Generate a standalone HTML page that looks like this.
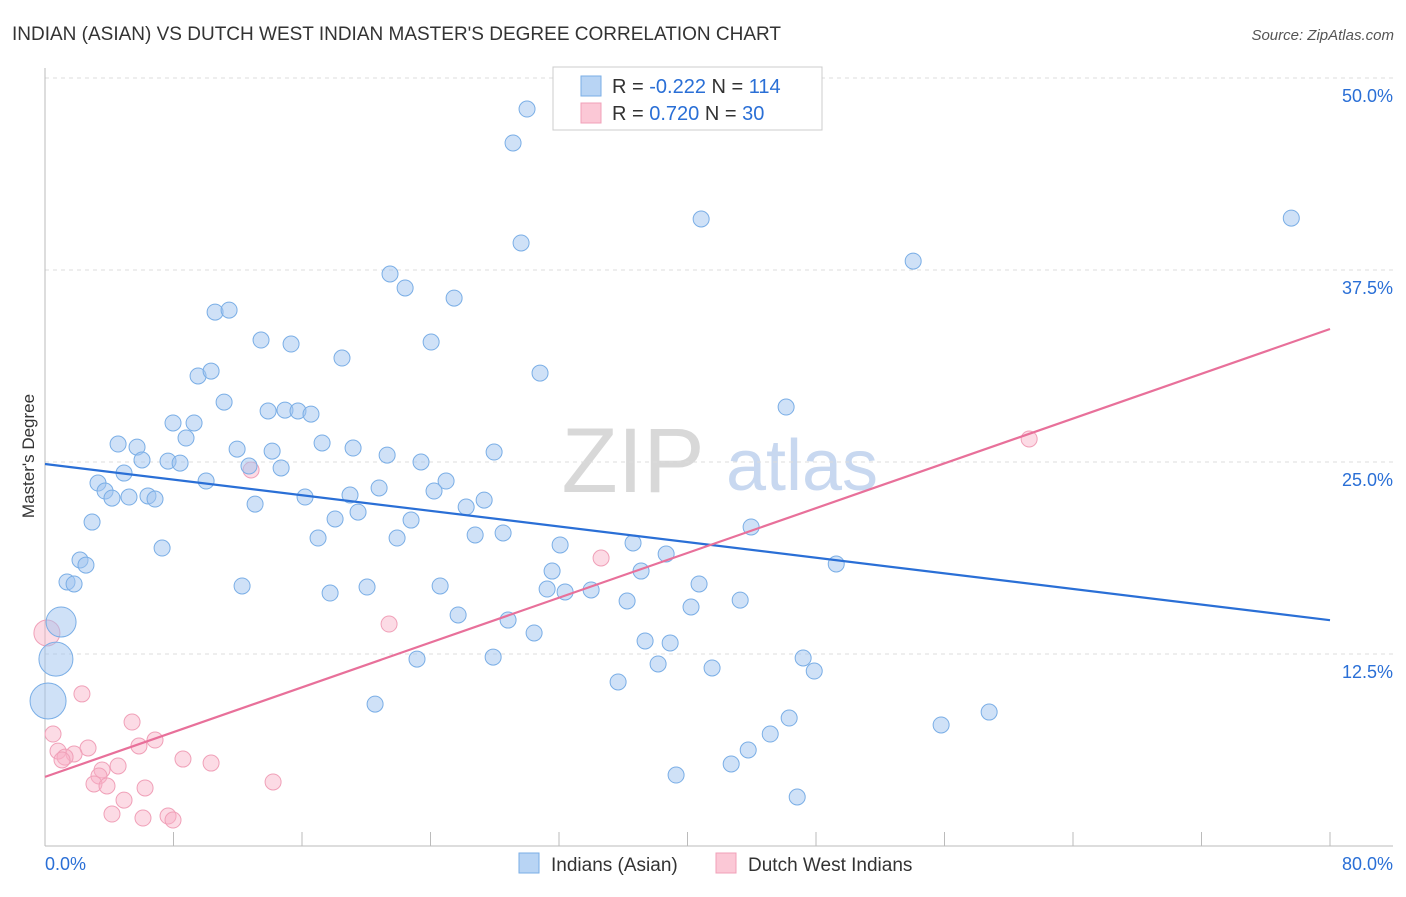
<!DOCTYPE html>
<html><head><meta charset="utf-8"><style>
body{margin:0;background:#fff;font-family:"Liberation Sans",sans-serif;}
svg text{font-family:"Liberation Sans",sans-serif;}
</style></head><body>
<svg id="chart" width="1406" height="892" viewBox="0 0 1406 892" xmlns="http://www.w3.org/2000/svg">
<text x="12" y="40" font-size="19" fill="#333">INDIAN (ASIAN) VS DUTCH WEST INDIAN MASTER'S DEGREE CORRELATION CHART</text>
<text x="1394" y="40" font-size="15" fill="#555" font-style="italic" text-anchor="end">Source: ZipAtlas.com</text>
<g>
<text x="633" y="492" font-size="92" fill="#d8d8d8" font-family="Liberation Serif" text-anchor="middle">ZIP</text>
<text x="802" y="490" font-size="72" fill="#c8d8f0" text-anchor="middle">atlas</text>
</g>
<g id="grid"></g>
<g id="axes"></g>
<text transform="translate(34,456) rotate(-90)" font-size="17" fill="#333" text-anchor="middle">Master's Degree</text>
<g id="pts"></g>
<g id="lines"></g>
<g>
<rect x="553" y="67" width="269" height="63" fill="#fff" stroke="#ccc"/>
<rect x="581" y="76" width="20" height="20" fill="#b8d4f4" stroke="#7aaee6"/>
<rect x="581" y="103" width="20" height="20" fill="#fbc8d6" stroke="#f0a0b8"/>
<text x="612" y="93" font-size="20" fill="#333">R = <tspan fill="#2a6fd6">-0.222</tspan>   N = <tspan fill="#2a6fd6">114</tspan></text>
<text x="612" y="120" font-size="20" fill="#333">R =  <tspan fill="#2a6fd6">0.720</tspan>   N =  <tspan fill="#2a6fd6">30</tspan></text>
</g>
<g>
<rect x="519" y="853" width="20" height="20" fill="#b8d4f4" stroke="#7aaee6"/>
<text x="551" y="871" font-size="19" fill="#333">Indians (Asian)</text>
<rect x="716" y="853" width="20" height="20" fill="#fbc8d6" stroke="#f0a0b8"/>
<text x="748" y="871" font-size="19" fill="#333">Dutch West Indians</text>
</g>
</svg>
<script>
const yTicks=[12.5,25,37.5,50];
const yTickLabels=["12.5%","25.0%","37.5%","50.0%"];
const xTickVals=[0,8,16,24,32,40,48,56,64,72,80];
const xEndLabels=["0.0%","80.0%"];
const blueX=[30.01,29.14,40.85,77.59,29.64,54.05,21.48,22.42,25.47,10.59,11.46,13.45,15.32,24.04,18.49,30.82,9.53,10.34,11.15,46.14,13.89,14.94,15.75,16.56,7.97,9.28,8.78,4.55,5.73,17.25,11.96,19.18,14.14,27.96,21.3,6.04,7.66,8.41,12.7,14.7,23.41,4.92,10.03,24.97,3.3,3.74,4.17,5.23,6.41,6.85,20.8,24.22,18.99,16.19,13.08,27.34,26.22,19.49,2.93,18.06,22.79,43.96,26.78,28.52,17.0,21.92,36.61,32.07,7.29,38.67,2.18,2.55,49.26,31.57,37.11,1.37,1.81,12.27,24.6,20.05,17.75,31.26,32.38,34.0,40.72,36.24,43.28,40.22,25.72,28.83,1.0,30.45,37.36,38.92,0.68,23.16,27.9,47.2,38.17,41.53,47.89,35.68,0.19,20.55,58.78,55.79,46.33,45.15,43.78,42.72,39.29,46.83];
const blueY=[47.98,45.77,40.82,40.88,39.26,38.08,37.24,36.33,35.67,34.76,34.89,32.94,32.68,32.81,31.77,30.79,30.6,30.92,28.9,28.58,28.32,28.38,28.32,28.12,27.54,27.54,26.56,26.17,25.97,26.24,25.84,25.91,25.71,25.65,25.45,25.13,25.06,24.93,24.74,24.61,25.0,24.28,23.76,23.76,23.63,23.11,22.65,22.72,22.79,22.59,23.31,23.11,22.85,22.72,22.26,22.52,22.07,21.74,21.09,21.29,21.22,20.77,20.25,20.38,20.05,20.05,19.73,19.6,19.4,19.01,18.62,18.29,18.36,17.9,17.9,17.19,17.06,16.93,16.93,16.86,16.47,16.73,16.54,16.67,17.06,15.95,16.01,15.56,15.04,14.71,14.58,13.87,13.35,13.22,12.17,12.17,12.3,12.24,11.85,11.59,11.39,10.68,9.44,9.24,8.72,7.88,8.33,7.29,6.25,5.34,4.62,3.19];
const blueBig=[90,94,102];
const blueBigR=[15,17,18];
const pinkX=[0.12,2.3,0.5,5.42,6.85,5.85,0.81,2.68,1.81,1.25,1.06,4.55,3.55,3.36,10.34,8.59,3.05,3.86,6.23,4.92,14.2,4.17,6.1,7.66,7.97,12.83,21.42,34.62,61.27];
const pinkY=[13.87,9.9,7.29,8.07,6.9,6.51,6.18,6.38,5.99,5.79,5.6,5.21,4.95,4.56,5.4,5.66,4.04,3.91,3.78,2.99,4.17,2.08,1.82,1.95,1.69,24.48,14.45,18.75,26.5];
const blueLine=[24.87,14.7];
const pinkLine=[4.5,33.66];
const NS="http://www.w3.org/2000/svg";
const X=v=>45+v*(1285/80);
const Y=v=>846-v*15.36;
function mk(t,a,p){const e=document.createElementNS(NS,t);for(const k in a)e.setAttribute(k,a[k]);p.appendChild(e);return e;}
const grid=document.getElementById('grid'),axes=document.getElementById('axes');
yTicks.forEach((v,i)=>{
 const l=mk('line',{x1:45,x2:1393,y1:Y(v),y2:Y(v),stroke:'#ddd','stroke-dasharray':'4,4'},grid);
 
 
 const t=mk('text',{x:1393,y:Y(v)+24,'font-size':18,fill:'#2a6fd6','text-anchor':'end'},axes);
 t.textContent=yTickLabels[i];
 
 
});
mk('line',{x1:45,x2:45,y1:68,y2:846,stroke:'#bbb'},axes);
mk('line',{x1:45,x2:1393,y1:846,y2:846,stroke:'#bbb'},axes);
xTickVals.forEach(v=>{
 const l=mk('line',{x1:X(v),x2:X(v),y1:832,y2:846,stroke:'#bbb'},axes);
 
 
});
const t0=mk('text',{x:45,y:870,'font-size':18,fill:'#2a6fd6'},axes);t0.textContent=xEndLabels[0];


const t1=mk('text',{x:1393,y:870,'font-size':18,fill:'#2a6fd6','text-anchor':'end'},axes);t1.textContent=xEndLabels[1];


const pts=document.getElementById('pts');
pinkX.forEach((x,i)=>{
 const c=mk('circle',{cx:X(x),cy:Y(pinkY[i]),r:i===0?13:8,fill:'rgba(248,175,198,0.45)',stroke:'#f0a0b8','stroke-width':1},pts);
 
 
});
blueX.forEach((x,i)=>{
 const bi=blueBig.indexOf(i);
 const c=mk('circle',{cx:X(x),cy:Y(blueY[i]),r:bi>=0?blueBigR[bi]:8,fill:'rgba(160,196,240,0.5)',stroke:'#7aaee6','stroke-width':1},pts);
 
 
});
const lines=document.getElementById('lines');
const bl=mk('line',{x1:X(0),y1:Y(blueLine[0]),x2:X(80),y2:Y(blueLine[1]),stroke:'#2a6fd6','stroke-width':2.2},lines);


const pl=mk('line',{x1:X(0),y1:Y(pinkLine[0]),x2:X(80),y2:Y(pinkLine[1]),stroke:'#e8709a','stroke-width':2.2},lines);


</script>
</body></html>
